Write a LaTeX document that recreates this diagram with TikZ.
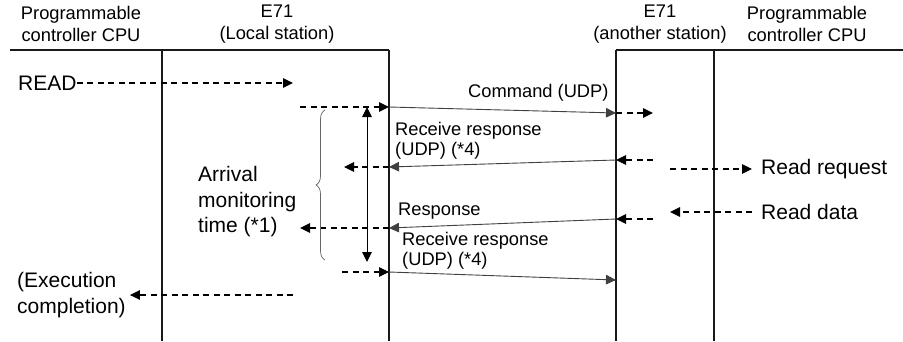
\documentclass[tikz,border=0pt]{standalone}
\usepackage{fontspec}
\setmainfont{Liberation Sans}
\usetikzlibrary{arrows.meta,decorations.pathreplacing}

\begin{document}
\begin{tikzpicture}[x=1pt,y=-1pt,
    >={Triangle[length=10pt,width=9.5pt]},
    wall/.style={line width=2.4pt,draw=black!90},
    dmsg/.style={->,line width=1.1pt,dash pattern=on 6pt off 4.5pt},
    wmsg/.style={->,line width=0.9pt,draw=black!75},
    hdr/.style={align=center,inner sep=0pt,font=\fontsize{18.3}{21.5}\selectfont},
    slbl/.style={anchor=west,align=left,inner sep=0pt,font=\fontsize{18.3}{20}\selectfont},
    blbl/.style={anchor=west,align=left,inner sep=0pt,font=\fontsize{21}{25.5}\selectfont}
  ]
  \path[use as bounding box] (0,0) rectangle (903,341);
  % station headers
  \node[hdr] (cpuL) at (81,24) {Programmable\\controller CPU};
  \node[hdr] (e71L) at (277,24) {E71\\(Local station)};
  \node[hdr] (e71R) at (660,24) {E71\\(another station)};
  \node[hdr] (cpuR) at (807,24) {Programmable\\controller CPU};

  % frame
  \draw[wall] (10,50) -- (389,50);
  \draw[wall] (616,50) -- (903,50);
  \draw[wall] (162,50) -- (162,341);
  \draw[wall] (389,50) -- (389,341);
  \draw[wall] (616,50) -- (616,341);
  \draw[wall] (714,50) -- (714,341);

  % request from the program
  \node[blbl] (read) at (18,83) {READ};
  \coordinate (readE) at (293,83);
  \draw[dmsg] (read.east) -- (readE);

  % command
  \coordinate (cmdS) at (300,107);
  \coordinate (cmdL) at (389,107);
  \coordinate (cmdR) at (616,113);
  \coordinate (cmdE) at (653,113);
  \draw[dmsg] (cmdS) -- (cmdL);
  \draw[wmsg] (cmdL) -- (cmdR);
  \draw[dmsg] (cmdR) -- (cmdE);
  \node[slbl] (cmd) at (468,93) {Command (UDP)};

  % first receive response
  \coordinate (rr1S) at (653,160);
  \coordinate (rr1R) at (616,160);
  \coordinate (rr1L) at (389,167);
  \coordinate (rr1E) at (344,167);
  \draw[dmsg] (rr1S) -- (rr1R);
  \draw[wmsg] (rr1R) -- (rr1L);
  \draw[dmsg] (rr1L) -- (rr1E);
  \node[slbl] (rr1) at (395,141) {Receive response\\(UDP) (*4)};

  % other station side
  \node[blbl] (rreq) at (761,169) {Read request};
  \coordinate (rreqS) at (670,169);
  \draw[dmsg,shorten >=9pt] (rreqS) -- (rreq.west);
  \node[blbl] (rdat) at (761,212) {Read data};
  \coordinate (rdatE) at (670,212);
  \draw[dmsg,shorten <=9pt] (rdat.west) -- (rdatE);

  % response
  \coordinate (rspS) at (653,219);
  \coordinate (rspR) at (616,219);
  \coordinate (rspL) at (389,228);
  \coordinate (rspE) at (300,228);
  \draw[dmsg] (rspS) -- (rspR);
  \draw[wmsg] (rspR) -- (rspL);
  \draw[dmsg] (rspL) -- (rspE);
  \node[slbl] (rsp) at (398,211) {Response};

  % second receive response
  \coordinate (rr2S) at (342,272);
  \coordinate (rr2L) at (389,272);
  \coordinate (rr2R) at (616,280);
  \draw[dmsg] (rr2S) -- (rr2L);
  \draw[wmsg] (rr2L) -- (rr2R);
  \node[slbl] (rr2) at (402,251) {Receive response\\(UDP) (*4)};

  % arrival monitoring time
  \coordinate (monT) at (367,107);
  \coordinate (monB) at (367,262);
  \draw[<->,line width=1pt] (monT) -- (monB);
  \coordinate (brB) at (325,260);
  \coordinate (brT) at (325,110);
  \draw[decorate,decoration={brace,amplitude=9pt},line width=0.7pt,draw=black!60]
    (brB) -- (brT);
  \node[blbl] (mon) at (198,202) {Arrival\\monitoring\\time (*1)};

  % completion
  \node[blbl] (exec) at (17,295) {(Execution\\completion)};
  \coordinate (execS) at (293,295);
  \draw[dmsg,shorten >=4pt] (execS) -- (exec.east);
\end{tikzpicture}
\end{document}
